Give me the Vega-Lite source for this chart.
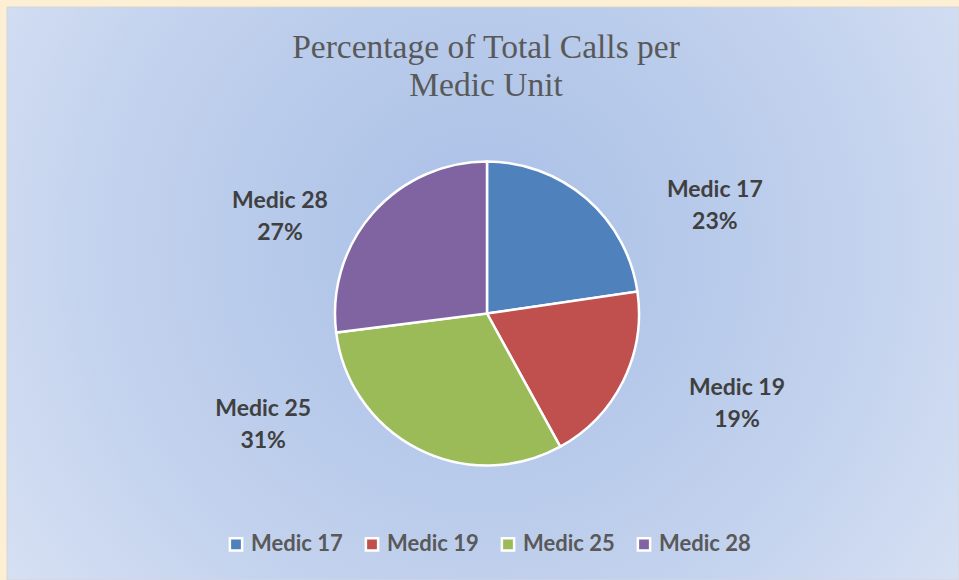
{
  "$schema": "https://vega.github.io/schema/vega-lite/v6.json",
  "width": 952,
  "height": 573,
  "padding": {"left": 7, "top": 7, "right": 0, "bottom": 0},
  "autosize": {"type": "none"},
  "background": "#fcefd3",
  "config": {"view": {"stroke": null}},
  "title": {
    "text": ["Percentage of Total Calls per", "Medic Unit"],
    "font": "Liberation Serif",
    "fontSize": 33.5,
    "fontWeight": "normal",
    "color": "#595959",
    "lineHeight": 38,
    "anchor": "middle",
    "dx": 3,
    "offset": -97
  },
  "data": {
    "values": [
      {"unit": "Medic 17", "percent": 0.227},
      {"unit": "Medic 19", "percent": 0.193},
      {"unit": "Medic 25", "percent": 0.310},
      {"unit": "Medic 28", "percent": 0.270}
    ]
  },
  "layer": [
    {
      "data": {"values": [{}]},
      "mark": {
        "type": "rect",
        "fill": {"gradient": "radial", "x1": 0.5, "y1": 0.45, "r1": 0, "x2": 0.5, "y2": 0.45, "r2": 0.75, "stops": [{"offset": 0, "color": "#a8bfe6"}, {"offset": 0.55, "color": "#c4d3ee"}, {"offset": 1, "color": "#e2e9f6"}]},
        "stroke": "#d6d6d6",
        "strokeWidth": 1
      },
      "encoding": {
        "x": {"value": 0},
        "x2": {"value": "width"},
        "y": {"value": 0},
        "y2": {"value": "height"}
      }
    },
    {
      "mark": {
        "type": "arc",
        "outerRadius": 152,
        "stroke": "white",
        "strokeWidth": 2.5,
        "x": {"expr": "width/2 + 4"},
        "y": {"expr": "height/2 + 20"}
      },
      "encoding": {
        "theta": {"field": "percent", "type": "quantitative", "stack": true},
        "order": {"field": "unit", "sort": "ascending"},
        "color": {
          "field": "unit",
          "type": "nominal",
          "scale": {
            "domain": ["Medic 17", "Medic 19", "Medic 25", "Medic 28"],
            "range": ["#4f81bd", "#c0504d", "#9bbb59", "#8064a2"]
          },
          "legend": {
            "title": null,
            "orient": "none",
            "legendX": 218,
            "legendY": 526,
            "direction": "horizontal",
            "symbolType": "square",
            "symbolSize": 150,
            "symbolStrokeColor": "white",
            "symbolStrokeWidth": 2.5,
            "symbolOpacity": 1,
            "labelFont": "Lato",
            "labelFontSize": 22,
            "labelFontWeight": "bold",
            "labelColor": "#595959",
            "labelOffset": 4,
            "columnPadding": 17
          }
        }
      }
    },
    {
      "mark": {"type": "text", "radius": 200, "dx": 101, "dy": 48, "font": "Lato", "fontSize": 23, "fontWeight": "bold", "color": "#404040", "baseline": "middle", "align": "center"},
      "encoding": {"theta": {"field": "percent", "type": "quantitative", "stack": true}, "order": {"field": "unit", "sort": "ascending"}, "text": {"condition": {"test": "datum.unit == 'Medic 17'", "field": "unit", "type": "nominal"}, "value": ""}}
    },
    {
      "mark": {"type": "text", "radius": 200, "dx": 101, "dy": 80, "font": "Lato", "fontSize": 23, "fontWeight": "bold", "color": "#404040", "baseline": "middle", "align": "center"},
      "encoding": {"theta": {"field": "percent", "type": "quantitative", "stack": true}, "order": {"field": "unit", "sort": "ascending"}, "text": {"condition": {"test": "datum.unit == 'Medic 17'", "field": "percent", "type": "quantitative", "format": ".0%"}, "value": ""}}
    },
    {
      "mark": {"type": "text", "radius": 200, "dx": 75, "dy": 5, "font": "Lato", "fontSize": 23, "fontWeight": "bold", "color": "#404040", "baseline": "middle", "align": "center"},
      "encoding": {"theta": {"field": "percent", "type": "quantitative", "stack": true}, "order": {"field": "unit", "sort": "ascending"}, "text": {"condition": {"test": "datum.unit == 'Medic 19'", "field": "unit", "type": "nominal"}, "value": ""}}
    },
    {
      "mark": {"type": "text", "radius": 200, "dx": 75, "dy": 37, "font": "Lato", "fontSize": 23, "fontWeight": "bold", "color": "#404040", "baseline": "middle", "align": "center"},
      "encoding": {"theta": {"field": "percent", "type": "quantitative", "stack": true}, "order": {"field": "unit", "sort": "ascending"}, "text": {"condition": {"test": "datum.unit == 'Medic 19'", "field": "percent", "type": "quantitative", "format": ".0%"}, "value": ""}}
    },
    {
      "mark": {"type": "text", "radius": 200, "dx": -129, "dy": -63, "font": "Lato", "fontSize": 23, "fontWeight": "bold", "color": "#404040", "baseline": "middle", "align": "center"},
      "encoding": {"theta": {"field": "percent", "type": "quantitative", "stack": true}, "order": {"field": "unit", "sort": "ascending"}, "text": {"condition": {"test": "datum.unit == 'Medic 25'", "field": "unit", "type": "nominal"}, "value": ""}}
    },
    {
      "mark": {"type": "text", "radius": 200, "dx": -129, "dy": -31, "font": "Lato", "fontSize": 23, "fontWeight": "bold", "color": "#404040", "baseline": "middle", "align": "center"},
      "encoding": {"theta": {"field": "percent", "type": "quantitative", "stack": true}, "order": {"field": "unit", "sort": "ascending"}, "text": {"condition": {"test": "datum.unit == 'Medic 25'", "field": "percent", "type": "quantitative", "format": ".0%"}, "value": ""}}
    },
    {
      "mark": {"type": "text", "radius": 200, "dx": -53, "dy": 40, "font": "Lato", "fontSize": 23, "fontWeight": "bold", "color": "#404040", "baseline": "middle", "align": "center"},
      "encoding": {"theta": {"field": "percent", "type": "quantitative", "stack": true}, "order": {"field": "unit", "sort": "ascending"}, "text": {"condition": {"test": "datum.unit == 'Medic 28'", "field": "unit", "type": "nominal"}, "value": ""}}
    },
    {
      "mark": {"type": "text", "radius": 200, "dx": -53, "dy": 72, "font": "Lato", "fontSize": 23, "fontWeight": "bold", "color": "#404040", "baseline": "middle", "align": "center"},
      "encoding": {"theta": {"field": "percent", "type": "quantitative", "stack": true}, "order": {"field": "unit", "sort": "ascending"}, "text": {"condition": {"test": "datum.unit == 'Medic 28'", "field": "percent", "type": "quantitative", "format": ".0%"}, "value": ""}}
    }
  ]
}
